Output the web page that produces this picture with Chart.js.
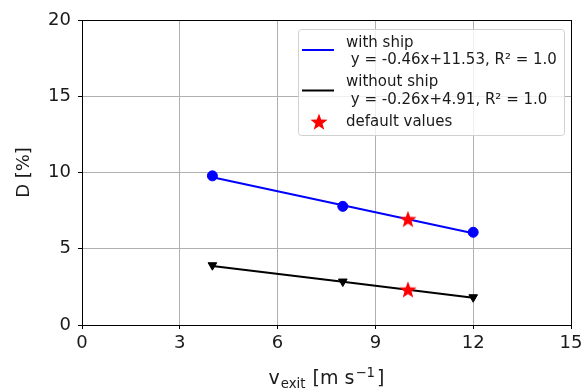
<!DOCTYPE html>
<html>
<head>
<meta charset="utf-8">
<script src="https://cdn.jsdelivr.net/npm/chart.js@4.4.1/dist/chart.umd.min.js"></script>
<style>
  html, body { margin: 0; padding: 0; background: #fff; }
  #wrap { width: 582px; height: 389px; }
</style>
</head>
<body>
<div id="wrap"><canvas id="c" width="582" height="389"></canvas></div>
<script>
// Exit velocity samples and measured D values
const xValues = [4, 8, 12];
const withShip = [9.78, 7.78, 6.08];
const withoutShip = [3.92, 2.85, 1.82];
// Linear fit lines evaluated at the sample velocities
const withShipFit = [9.69, 7.85, 6.01];
const withoutShipFit = [3.87, 2.83, 1.79];
// Default operating point
const defaultX = [10, 10];
const defaultD = [6.93, 2.31];
// Axis ticks
const xTicks = [0, 3, 6, 9, 12, 15];
const yTicks = [0, 5, 10, 15, 20];
// Legend labels
const legendWith = ['with ship', ' y = -0.46x+11.53, R\u00B2 = 1.0'];
const legendWithout = ['without ship', ' y = -0.26x+4.91, R\u00B2 = 1.0'];
const legendDefault = 'default values';

const FONT = "'DejaVu Sans', sans-serif";
const TEXT = '#1a1a1a';

function toPoints(xs, ys) { return xs.map((x, i) => ({ x: x, y: ys[i] })); }

function drawStar(ctx, cx, cy, rOut, rIn, color) {
  ctx.save();
  ctx.beginPath();
  for (let i = 0; i < 10; i++) {
    const r = i % 2 === 0 ? rOut : rIn;
    const a = -Math.PI / 2 + i * Math.PI / 5;
    const px = cx + r * Math.cos(a), py = cy + r * Math.sin(a);
    if (i === 0) ctx.moveTo(px, py); else ctx.lineTo(px, py);
  }
  ctx.closePath();
  ctx.fillStyle = color;
  ctx.fill();
  ctx.restore();
}

const starImg = document.createElement('canvas');
starImg.width = 20; starImg.height = 20;
drawStar(starImg.getContext('2d'), 10, 10.5, 9, 3.7, '#ff0000');

const framePlugin = {
  id: 'frame',
  afterDraw(chart) {
    const ctx = chart.ctx, a = chart.chartArea;
    ctx.save();
    // axes frame
    ctx.strokeStyle = '#000';
    ctx.lineWidth = 1;
    ctx.strokeRect(Math.round(a.left) + 0.5, Math.round(a.top) + 0.5,
                   Math.round(a.right - a.left), Math.round(a.bottom - a.top));

    // legend box
    const bx = 298.5, by = 29.5, bw = 266, bh = 106, r = 3;
    ctx.beginPath();
    ctx.moveTo(bx + r, by);
    ctx.lineTo(bx + bw - r, by);
    ctx.arcTo(bx + bw, by, bx + bw, by + r, r);
    ctx.lineTo(bx + bw, by + bh - r);
    ctx.arcTo(bx + bw, by + bh, bx + bw - r, by + bh, r);
    ctx.lineTo(bx + r, by + bh);
    ctx.arcTo(bx, by + bh, bx, by + bh - r, r);
    ctx.lineTo(bx, by + r);
    ctx.arcTo(bx, by, bx + r, by, r);
    ctx.closePath();
    ctx.fillStyle = 'rgba(255,255,255,0.8)';
    ctx.fill();
    ctx.strokeStyle = '#d0d0d0';
    ctx.stroke();

    const ds = chart.data.datasets;
    // handles
    ctx.lineWidth = 2;
    ctx.strokeStyle = ds[0].borderColor;
    ctx.beginPath(); ctx.moveTo(302, 50); ctx.lineTo(334, 50); ctx.stroke();
    ctx.strokeStyle = ds[2].borderColor;
    ctx.beginPath(); ctx.moveTo(302, 90.5); ctx.lineTo(334, 90.5); ctx.stroke();
    drawStar(ctx, 319, 122.5, 9, 3.7, '#ff0000');

    // legend text
    ctx.fillStyle = TEXT;
    ctx.font = '15px ' + FONT;
    ctx.textBaseline = 'middle';
    ctx.textAlign = 'left';
    ctx.fillText(legendWith[0], 346, 43);
    ctx.fillText(legendWith[1], 346, 60);
    ctx.fillText(legendWithout[0], 346, 82.5);
    ctx.fillText(legendWithout[1], 346, 100);
    ctx.fillText(legendDefault, 346, 122);

    // y axis title
    ctx.save();
    ctx.translate(24, (a.top + a.bottom) / 2);
    ctx.rotate(-Math.PI / 2);
    ctx.font = '18px ' + FONT;
    ctx.textAlign = 'center';
    ctx.textBaseline = 'middle';
    ctx.fillText('D [%]', 0, 0);
    ctx.restore();

    // x axis title with subscript and superscript
    const parts = [
      { t: 'v', size: 19, dy: 0, gap: 0 },
      { t: 'exit', size: 13.3, dy: 4, gap: 1 },
      { t: ' [m s', size: 19, dy: 0, gap: 1 },
      { t: '\u22121', size: 13.3, dy: -7, gap: 1 },
      { t: ']', size: 19, dy: 0, gap: 2 }
    ];
    let total = 0;
    parts.forEach(p => { ctx.font = p.size + 'px ' + FONT; p.w = ctx.measureText(p.t).width; total += p.w + p.gap; });
    let x = (a.left + a.right) / 2 - total / 2;
    ctx.textAlign = 'left';
    ctx.textBaseline = 'alphabetic';
    parts.forEach(p => {
      ctx.font = p.size + 'px ' + FONT;
      x += p.gap;
      ctx.fillText(p.t, x, 384 + p.dy);
      x += p.w;
    });
    ctx.restore();
  }
};

new Chart(document.getElementById('c'), {
  type: 'scatter',
  data: {
    datasets: [
      {
        label: legendWith.join('\n'),
        type: 'line',
        data: toPoints(xValues, withShipFit),
        borderColor: '#0000ff',
        borderWidth: 2,
        pointRadius: 0,
        fill: false,
        order: 3
      },
      {
        label: 'with ship data',
        data: toPoints(xValues, withShip),
        backgroundColor: '#0000ff',
        borderColor: '#0000ff',
        pointStyle: 'circle',
        pointRadius: 5,
        order: 4
      },
      {
        label: legendWithout.join('\n'),
        type: 'line',
        data: toPoints(xValues, withoutShipFit),
        borderColor: '#000000',
        borderWidth: 2,
        pointRadius: 0,
        fill: false,
        order: 1
      },
      {
        label: 'without ship data',
        data: toPoints(xValues, withoutShip),
        backgroundColor: '#000000',
        borderColor: '#000000',
        pointStyle: 'triangle',
        rotation: 180,
        pointRadius: 5,
        order: 2
      },
      {
        label: legendDefault,
        data: toPoints(defaultX, defaultD),
        pointStyle: starImg,
        pointRadius: 10,
        order: 0
      }
    ]
  },
  options: {
    responsive: false,
    animation: false,
    devicePixelRatio: 1,
    layout: { padding: { left: 0, top: 20, right: 10, bottom: 0 } },
    plugins: {
      legend: { display: false },
      tooltip: { enabled: false }
    },
    scales: {
      x: {
        type: 'linear',
        min: xTicks[0],
        max: xTicks[xTicks.length - 1],
        afterBuildTicks(scale) { scale.ticks = xTicks.map(v => ({ value: v })); },
        afterFit(scale) { scale.height = 64; scale.paddingLeft = 0; scale.paddingRight = 0; },
        ticks: { color: TEXT, font: { family: FONT, size: 18 }, padding: 4 },
        grid: { color: '#b0b0b0', lineWidth: 1, tickColor: '#000', tickLength: 4, drawTicks: true },
        border: { display: true, color: '#000' }
      },
      y: {
        type: 'linear',
        min: yTicks[0],
        max: yTicks[yTicks.length - 1],
        afterBuildTicks(scale) { scale.ticks = yTicks.map(v => ({ value: v })); },
        afterFit(scale) { scale.width = 82; scale.paddingTop = 0; scale.paddingBottom = 0; },
        ticks: { color: TEXT, font: { family: FONT, size: 18 }, padding: 7 },
        grid: { color: '#b0b0b0', lineWidth: 1, tickColor: '#000', tickLength: 4, drawTicks: true },
        border: { display: true, color: '#000' }
      }
    }
  },
  plugins: [framePlugin]
});
</script>
</body>
</html>
